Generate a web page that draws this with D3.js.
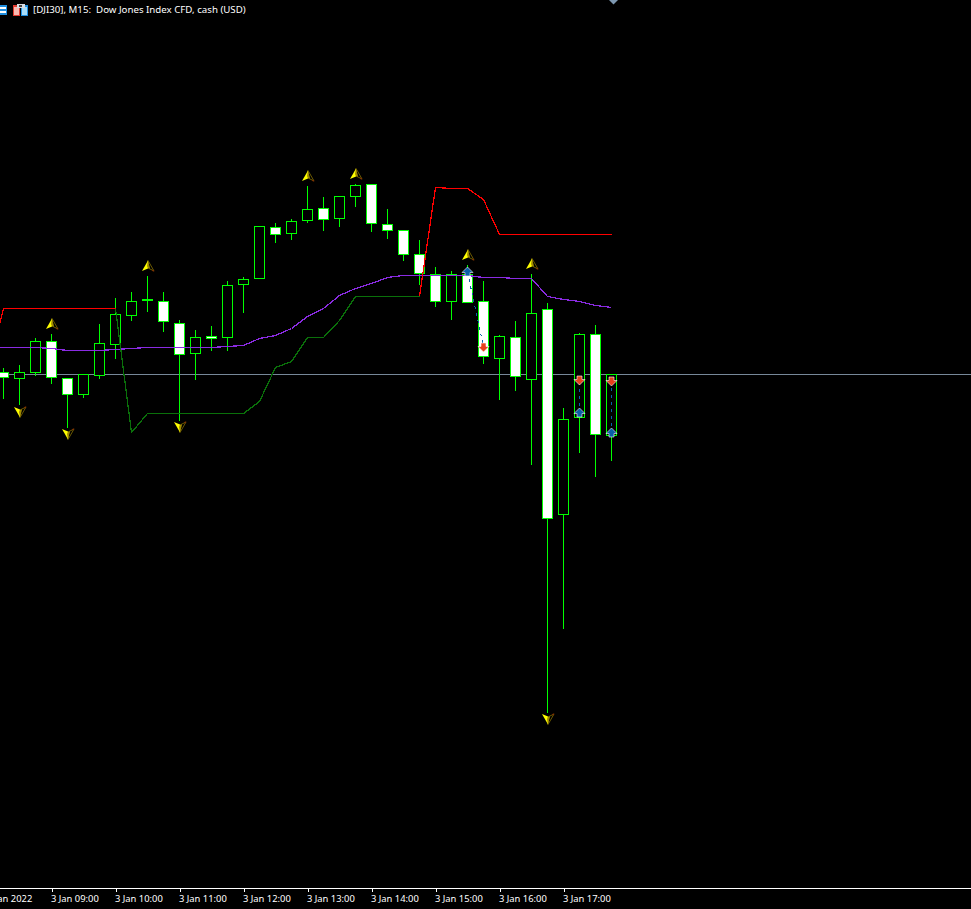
<!DOCTYPE html>
<html><head><meta charset="utf-8">
<script src="https://cdn.jsdelivr.net/npm/d3@7"></script>
<style>html,body{margin:0;padding:0;background:#000;overflow:hidden}svg{display:block}text{font-family:"Noto Sans",sans-serif}</style>
</head><body><svg id="c" width="971" height="909"></svg>
<script>
const title = "[DJI30], M15:  Dow Jones Index CFD, cash (USD)";
const tickLabels = ["3 Jan 2022","3 Jan 09:00","3 Jan 10:00","3 Jan 11:00","3 Jan 12:00","3 Jan 13:00","3 Jan 14:00","3 Jan 15:00","3 Jan 16:00","3 Jan 17:00"];
const lastPrice = 36626;
// 39 M15 bars from 08:15
const open  = [36628,36622,36628,36659,36622,36606,36625,36656,36685,36701,36699,36677,36647,36664,36663,36716,36722,36773,36767,36780,36792,36782,36804,36816,36776,36770,36746,36726,36699,36726,36699,36642,36663,36621,36691,36486,36583,36666,36565];
const high  = [36633,36636,36663,36667,36622,36626,36677,36703,36709,36725,36709,36681,36671,36675,36720,36724,36774,36778,36782,36815,36804,36804,36817,36816,36792,36770,36761,36734,36730,36736,36720,36666,36680,36727,36698,36593,36668,36676,36626];
const low   = [36602,36596,36625,36617,36573,36603,36622,36642,36680,36689,36669,36580,36621,36650,36650,36688,36722,36758,36761,36778,36770,36774,36794,36769,36762,36740,36716,36694,36681,36698,36637,36601,36610,36536,36288,36372,36548,36524,36540];
const close = [36623,36628,36659,36623,36606,36626,36657,36686,36699,36700,36679,36646,36663,36662,36715,36721,36774,36766,36779,36791,36781,36804,36815,36777,36770,36746,36727,36699,36726,36698,36644,36664,36624,36687,36482,36581,36666,36566,36626];
// indicator lines: one value per bar from 08:00
const purple = [36654,36653,36653,36653,36652,36650,36650,36650,36651,36652,36653,36653,36653,36653,36653,36654,36655,36662,36665,36672,36684,36692,36705,36712,36717,36723,36725,36725,36725,36725,36725,36723,36723,36722,36722,36704,36701,36699,36695,36693];
const red = [36627,36692,36692,36692,36692,36692,36692,36692,36692,null,null,null,null,null,null,null,null,null,null,null,null,null,null,null,null,null,null,36704,36813,36812,36812,36801,36766,36766,36766,36766,36766,36766,36766,36766];
const green = [null,null,null,null,null,null,null,null,36692,36568,36587,36587,36587,36587,36587,36587,36587,36599,36633,36639,36663,36663,36680,36704,36704,36704,36704,36704,null,null,null,null,null,null,null,null,null,null,null,null];
// markers: bar index, price
const arrowUpBar = [3,9,19,22,29,33];
const arrowUpPrice = [36676,36734,36824,36826,36745,36736];
const arrowDownBar = [1,4,11,34];
const arrowDownPrice = [36588,36566,36573,36281];
// trades: entry bar/price and exit bar/price
const tradeBuyBar = [29,36,38];
const tradeBuyPrice = [36728,36587,36567];
const tradeSellBar = [30,36,38];
const tradeSellPrice = [36653,36620,36619];

const svg = d3.select("#c");
const W = 971, H = 909, AX = 888;
const MS = 900000, T0 = Date.UTC(2022,0,3,8,15);
const timeOf = i => new Date(T0 + i*MS);
const x = d3.scaleUtc().domain([timeOf(-1), timeOf(60)]).range([-12.5, -12.5 + 16*61]);
const y = d3.scaleLinear().domain([37000, 36000]).range([0, 1000]);
const px = v => Math.round(y(v)) + 0.5;
const X = i => x(timeOf(i));

// last-price line
svg.append("line").attr("x1",0).attr("x2",W).attr("y1",px(lastPrice)).attr("y2",px(lastPrice))
  .attr("stroke","#778899").attr("shape-rendering","crispEdges");

// candles
const bars = d3.range(open.length);
const g = svg.append("g").attr("shape-rendering","crispEdges");
g.selectAll("line.w").data(bars).join("line").attr("class","w")
  .attr("x1",X).attr("x2",X).attr("y1",i=>px(high[i])).attr("y2",i=>px(low[i]))
  .attr("stroke","#00ff00");
g.selectAll("rect").data(bars).join("rect")
  .attr("x",i=>X(i)-5).attr("width",10)
  .attr("y",i=>px(Math.max(open[i],close[i])))
  .attr("height",i=>px(Math.min(open[i],close[i]))-px(Math.max(open[i],close[i])))
  .attr("fill",i=>close[i]<open[i]?"#fff":"#000").attr("stroke","#00ff00");

// indicator lines
const line = d3.line().defined(d=>d!=null).x((d,i)=>X(i-1)).y(d=>y(d)+0.5);
[[purple,"#8a2be2"],[green,"#0a700a"],[red,"#ff0000"]].forEach(([s,c])=>{
  svg.append("path").attr("d",line(s)).attr("fill","none").attr("stroke",c)
    .attr("stroke-width",1.25).attr("shape-rendering","crispEdges");
});

// trade connectors
tradeBuyBar.forEach((b,k)=>{
  svg.append("line").attr("x1",X(b)).attr("y1",y(tradeBuyPrice[k])).attr("x2",X(tradeSellBar[k])).attr("y2",y(tradeSellPrice[k]))
    .attr("stroke","#0a5fa8").attr("stroke-dasharray","3,4").attr("shape-rendering","crispEdges");
});

// yellow fractal darts
function dart(sel, bar, price, dir){
  const t = sel.append("g").attr("transform",`translate(${X(bar)+0.5},${y(price)}) scale(1,${dir})`);
  t.append("path").attr("d","M0,-5.5 L6,5 L1,2.5 Z").attr("fill","#000").attr("stroke","#6b5a00").attr("stroke-width",1);
  t.append("path").attr("d","M5,3.5 L6.5,5.5 L4,5 Z").attr("fill","#8a2a00");
  t.append("path").attr("d","M0,-5.5 L-6,5 L0,2.5 Z").attr("fill","#ffff00");
  t.append("path").attr("d","M0,-5.5 L-1,0 L0,2.5 L2,2.5 Z").attr("fill","#a08a00");
}
arrowUpBar.forEach((b,k)=>dart(svg,b,arrowUpPrice[k],1));
arrowDownBar.forEach((b,k)=>dart(svg,b,arrowDownPrice[k],-1));

// trade arrows
function tradeArrow(bar, price, col, dir){
  const t = svg.append("g").attr("transform",`translate(${X(bar)},${y(price)}) scale(1,${dir})`);
  t.append("path").attr("d","M0,-5 L5.5,0.5 L2.5,0.5 L2.5,4 L-2.5,4 L-2.5,0.5 L-5.5,0.5 Z")
    .attr("fill",col).attr("stroke","#fff").attr("stroke-width",0.6);
}
tradeBuyBar.forEach((b,k)=>tradeArrow(b,tradeBuyPrice[k],"#0a5fa8",1));
tradeSellBar.forEach((b,k)=>tradeArrow(b,tradeSellPrice[k],"#e8401c",-1));

// time axis
svg.append("line").attr("x1",0).attr("x2",W).attr("y1",AX+0.5).attr("y2",AX+0.5).attr("stroke","#fff").attr("shape-rendering","crispEdges");
const tickTimes = tickLabels.map((_,k)=>new Date(T0 - MS + k*4*MS));
const axis = d3.axisBottom(x).tickValues(tickTimes).tickSize(4).tickSizeOuter(0).tickFormat((d,k)=>tickLabels[k]);
const ag = svg.append("g").attr("transform",`translate(0,${AX})`).call(axis);
ag.select(".domain").remove();
ag.selectAll(".tick line").attr("stroke","#fff").attr("shape-rendering","crispEdges");
ag.selectAll(".tick text").attr("text-anchor","start").attr("x",-1).attr("y",5.5).attr("dy","0.9em")
  .attr("fill","#fff").style("font-family",'"Noto Sans",sans-serif').style("font-size","9.4px");

// title and toolbar glyphs
svg.append("text").attr("x",33).attr("y",13).attr("fill","#fff").style("white-space","pre").style("font-size","9.7px").text(title);
const ic = svg.append("g").attr("shape-rendering","crispEdges");
[[0,5,7,10,"#1f8fe0"],[0,7,6,2,"#fff"],[0,11,6,2,"#fff"],
 [13,5,7,11,"#e03a30"],[14,7,5,8,"#f8b8b0"],[21,5,7,11,"#1f8fe0"],[22,7,5,8,"#a8dcf8"],
 [17,4,8,4,"#d8dde2"],[19,5,3,2,"#444"]]
 .forEach(r=>ic.append("rect").attr("x",r[0]).attr("y",r[1]).attr("width",r[2]).attr("height",r[3]).attr("fill",r[4]));
// scroll marker at top
svg.append("path").attr("d",d3.line()([[609,0],[618,0],[613.5,4.5]])+"Z").attr("fill","#7d97b0");
</script></body></html>
